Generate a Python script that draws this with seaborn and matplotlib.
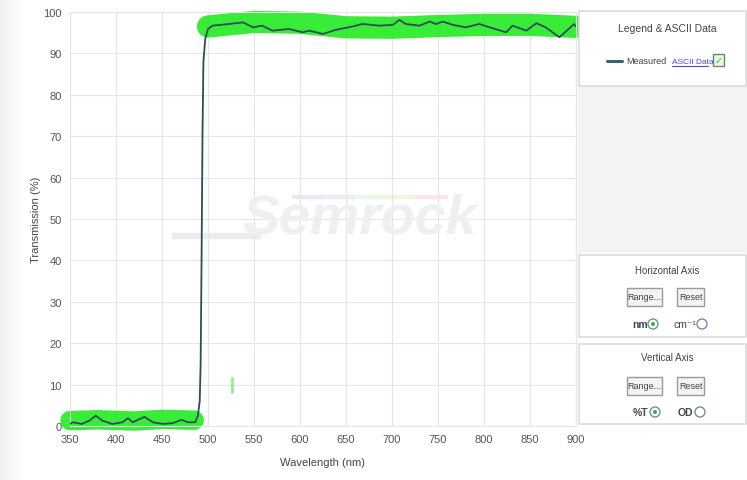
import numpy as np
import pandas as pd
import matplotlib.pyplot as plt
import seaborn as sns
from matplotlib.patches import Rectangle, Circle

# Measured transmission curve
wavelength_nm = [350, 353, 363, 371, 378, 385, 396, 407, 413, 418, 431, 440, 451, 462, 471, 478, 486,
                 489, 491, 492, 493, 494, 495, 497, 500, 505, 523, 538, 549, 559, 570, 588, 603,
                 610, 625, 639, 657, 668, 686, 701, 708, 715, 730, 741, 748, 755, 766, 780, 795,
                 809, 824, 831, 846, 857, 867, 882, 889, 898, 900]
transmission_pct = [0.5, 0.9, 0.5, 1.3, 2.5, 1.3, 0.5, 0.9, 1.9, 0.9, 2.2, 0.9, 0.5, 0.7, 1.5, 0.9, 0.9,
                    2.5, 6, 15, 40, 70, 88, 93.5, 95.9, 96.7, 97.1, 97.5, 96.3, 96.7, 95.5, 95.9, 95.1,
                    95.5, 94.7, 95.7, 96.5, 97.1, 96.7, 96.9, 98.1, 97.1, 96.7, 97.7, 97.1, 97.7, 96.9,
                    96.3, 97.1, 96.1, 95.1, 96.7, 95.5, 97.3, 96.3, 93.9, 95.3, 97.1, 96.5]

# Green specification bands
spec_low_nm = [350, 380, 420, 450, 485]
spec_low_pct = [1.3, 1.5, 1.2, 1.6, 1.4]
spec_high_nm = [500, 550, 600, 650, 700, 750, 800, 850, 900]
spec_high_pct = [96.5, 97.6, 97.4, 96.3, 96.2, 96.6, 96.9, 96.9, 96.4]

marker_nm = [526]
marker_pct = [10]

x_ticks = list(range(350, 901, 50))
y_ticks = list(range(0, 101, 10))

sns.set_style("whitegrid", {"grid.color": "#e6e6e6", "axes.edgecolor": "#e6e6e6"})
plt.rcParams["font.family"] = ["Liberation Sans", "DejaVu Sans"]

fig = plt.figure(figsize=(7.47, 4.81), dpi=100)

# background layer in pixel coordinates (left shading, watermark bars)
bg = fig.add_axes([0, 0, 1, 1])
bg.set_xlim(0, 747)
bg.set_ylim(481, 0)
bg.axis("off")
for i in range(12):
    bg.add_patch(Rectangle((i * 2, 0), 2, 481, color="#f0f0f0", alpha=1 - i / 12, lw=0))
bg.add_patch(Rectangle((172, 234), 88, 5, color="#ececec"))
for i, c in enumerate(["#ece6f6", "#e6eef8", "#eaf6e6", "#f8f2e2", "#f8e6e6"]):
    bg.add_patch(Rectangle((292 + i * 31, 196), 31, 2.5, color=c))

ax = fig.add_axes([70 / 747, 54 / 481, 506 / 747, 414 / 481])
ax.patch.set_alpha(0)

measured = pd.DataFrame({"Wavelength": wavelength_nm, "T": transmission_pct})

# spec bands as thick highlighter strokes
ax.plot(spec_low_nm, spec_low_pct, color="#22ea22", lw=14, solid_capstyle="round",
        alpha=0.9, clip_on=False, zorder=2)
ax.plot(spec_high_nm, spec_high_pct, color="#22ea22", lw=16, solid_capstyle="round",
        alpha=0.9, clip_on=False, zorder=2)
ax.plot(marker_nm, marker_pct, marker="|", ms=11, mew=2, color="#8ff08f", ls="none", zorder=2)

sns.lineplot(data=measured, x="Wavelength", y="T", estimator=None, color="#2e4d5c",
             lw=1.3, ax=ax, zorder=3)

ax.set_xlim(350, 900)
ax.set_ylim(0, 100)
ax.set_xticks(x_ticks)
ax.set_yticks(y_ticks)
ax.tick_params(labelsize=8, colors="#555555", length=0, pad=6)
ax.set_xlabel("Wavelength (nm)", fontsize=8, color="#444444", labelpad=9)
ax.set_ylabel("Transmission (%)", fontsize=8, color="#444444")
ax.yaxis.set_label_coords(-29 / 506, 0.5)

# faint watermark
ax.text(0.573, 0.50, "Semrock", transform=ax.transAxes, fontsize=40, fontweight="bold",
        fontstyle="italic", color="#efefef", ha="center", va="center", zorder=1)

# side panels in pixel coordinates
ov2 = fig.add_axes([0, 0, 1, 1])
ov2.set_xlim(0, 747)
ov2.set_ylim(481, 0)
ov2.axis("off")
ov2.patch.set_alpha(0)

ov2.add_patch(Rectangle((578, 88), 169, 166, facecolor="#f3f3f3", edgecolor="none"))
for y0, h in [(12, 75), (256, 82), (345, 80)]:
    ov2.add_patch(Rectangle((579, y0), 167, h, facecolor="white", edgecolor="#dcdcdc", lw=1.2))

ov2.text(667, 29, "Legend & ASCII Data", fontsize=7.5, color="#444444", ha="center", va="center")
ov2.plot([607, 622], [62, 62], color="#3c5f73", lw=2.2)
ov2.text(626, 62, "Measured", fontsize=6.5, color="#444444", ha="left", va="center")
ov2.text(672, 62, "ASCII Data", fontsize=6, color="#4545ee", ha="left", va="center")
ov2.plot([672, 708], [66.5, 66.5], color="#4545ee", lw=0.8)
ov2.add_patch(Rectangle((713, 55), 11, 12, facecolor="#e8f6e8", edgecolor="#6a8a6a", lw=1))
ov2.text(718.5, 61, "\u2713", fontsize=7, color="#2fb82f", ha="center", va="center",
         family=["DejaVu Sans"])

def button(x0, w, yc, label):
    ov2.add_patch(Rectangle((x0, yc - 9), w, 18, facecolor="#f4f4f4", edgecolor="#9a9a9a", lw=1))
    ov2.text(x0 + w / 2, yc, label, fontsize=6.5, color="#444444", ha="center", va="center")

def radio(xc, yc, on):
    ov2.add_patch(Circle((xc, yc), 5, facecolor="white", edgecolor="#6f8fa6", lw=1))
    if on:
        ov2.add_patch(Circle((xc, yc), 2, facecolor="#2fb82f", edgecolor="none"))

ov2.text(667, 271, "Horizontal Axis", fontsize=7, color="#444444", ha="center", va="center")
button(627, 35, 298, "Range...")
button(677, 27, 298, "Reset")
ov2.text(640, 325, "nm", fontsize=7.5, color="#444444", ha="center", va="center", fontweight="bold")
radio(653, 325, True)
ov2.text(685, 325, "cm\u207b\u00b9", fontsize=7.5, color="#444444", ha="center", va="center")
radio(702, 325, False)

ov2.text(667, 358, "Vertical Axis", fontsize=7, color="#444444", ha="center", va="center")
button(627, 35, 387, "Range...")
button(677, 27, 387, "Reset")
ov2.text(641, 413, "%T", fontsize=7.5, color="#444444", ha="center", va="center", fontweight="bold")
radio(655, 413, True)
ov2.text(685, 413, "OD", fontsize=7.5, color="#444444", ha="center", va="center", fontweight="bold")
radio(700, 413, False)

plt.savefig("out.png", dpi=100)
